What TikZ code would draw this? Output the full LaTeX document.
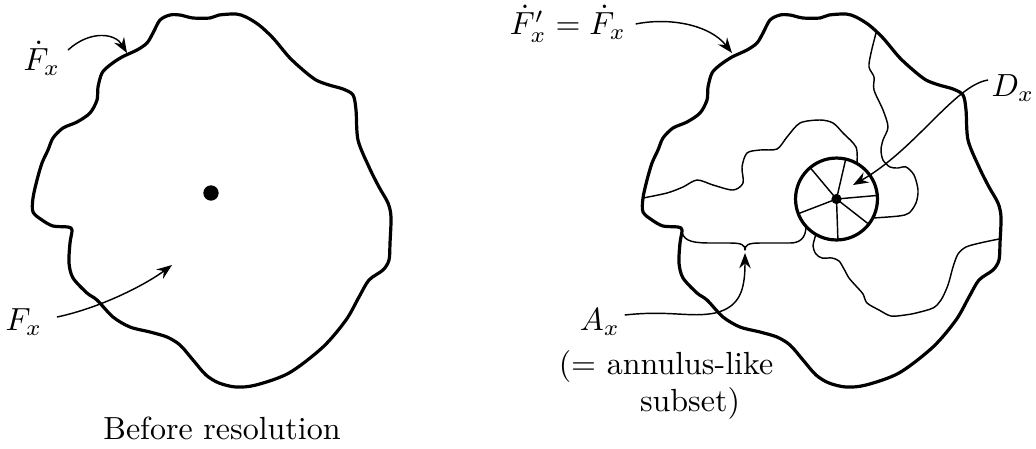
\documentclass[tikz,border=0pt]{standalone}
\usetikzlibrary{arrows.meta}
\begin{document}
\begin{tikzpicture}[x=0.3125pt,y=-0.3125pt,
  blobline/.style={line width=1pt, line join=round},
  thinline/.style={line width=0.45pt, line join=round},
  arr/.style={line width=0.45pt, -{Stealth[length=4.8pt,width=3.6pt,inset=1.6pt]}},
  lbl/.style={inner sep=0pt},
  blobpic/.pic={\draw[blobline] plot[smooth cycle, tension=0.5] coordinates {
    (780,15) (790,15) (803,18) (820,18) (829,15) (846,14) (856,17) (869,25)
    (883,38) (899,57) (913,70) (926,80) (939,85) (953,89) (963,95) (966,110)
    (968,140) (979,167) (989,187) (998,203) (1001,217) (1000,243) (999,260)
    (993,270) (979,280) (969,297) (956,320) (933,347) (899,373) (866,385)
    (846,387) (829,383) (816,375) (803,360) (790,345) (777,337) (760,332)
    (740,327) (723,317) (707,300) (697,293) (683,278) (679,263) (680,243)
    (682,230) (678,227) (663,226) (652,220) (643,212) (643,198) (647,180)
    (652,163) (658,150) (663,138) (673,128) (687,122) (700,113) (707,100)
    (708,87) (712,73) (720,65) (732,57) (747,50) (757,43) (763,33) (770,20)};}
]
\useasboundingbox (0,0) rectangle (1036,448);

% ---------- left figure ----------
\pic at (-610,0) {blobpic};
\fill (211,193) circle[radius=2.4pt];
\node[lbl] (Fdl) at (42,58) {$\dot{F}_x$};
\node[lbl] (Fl) at (24,322) {$F_x$};
\coordinate (tFdl) at (127,53);
\coordinate (tFl) at (172,265);
\draw[arr] ([shift={(7,-8)}]Fdl.east) .. controls (90,30) and (115,33) .. (tFdl);
\draw[arr] ([shift={(14,-5)}]Fl.east) .. controls (100,308) and (145,285) .. (tFl);
\node[lbl] (cap) at (222,428) {Before resolution};

% ---------- right figure ----------
\pic at (0,0) {blobpic};
\coordinate (dc) at (836.5,199);

% thin curves
\draw[thinline] plot[smooth, tension=0.5] coordinates {
  (643,198) (667,193) (683,187) (697,180) (713,185) (733,190) (743,183)
  (742,167) (747,153) (760,150) (777,149) (787,137) (800,123) (820,120)
  (833,123) (843,133) (856,147) (857,163)};
\draw[thinline] (682,232) .. controls (684,242) and (695,243) .. (712,243)
  -- (730,243) .. controls (742,243) and (745,245) .. (745,250)
  .. controls (745,245) and (748,243) .. (760,243) -- (790,243)
  .. controls (800,243) and (806,238) .. (806,226);
\draw[thinline] plot[smooth, tension=0.5] coordinates {
  (876,33) (871,53) (869,67) (874,77) (874,90) (883,110) (888,127) (883,140)
  (881,150) (883,160) (890,167) (898,168) (906,167) (914,175) (918,190)
  (916,203) (909,213) (899,216) (873,218)};
\draw[thinline] plot[smooth, tension=0.5] coordinates {
  (816,234) (813,246) (816,254) (822,258) (832,258) (839,261) (844,269)
  (849,278) (856,286) (863,294) (867,303) (879,310) (891,316) (905,315)
  (916,313) (933,308) (941,300) (948,285) (953,267) (958,254) (966,247)
  (980,243) (999,239)};

% disc with spokes
\foreach \a in {130,77,5,-38,-88,201}
  \draw[thinline] (dc) -- ++(\a:12.8pt);
\draw[blobline] (dc) circle[radius=12.8pt];
\fill (dc) circle[radius=1.6pt];

% labels and arrows
\node[lbl] (Fdr) at (568,24) {$\dot{F}'_x=\dot{F}_x$};
\node[lbl] (Dl) at (1013,88) {$D_x$};
\node[lbl] (Al) at (600,322) {$A_x$};
\node[lbl] (ann1) at (666,366) {(= annulus-like};
\node[lbl] (ann2) at (690,403) {subset)};
\coordinate (tFdr) at (732,53);
\coordinate (tDl) at (853,185);
\coordinate (tAl) at (745,253);
\draw[arr] ([shift={(9,0)}]Fdr.east) .. controls (670,17) and (710,25) .. (tFdr);
\draw[arr] ([shift={(-3,-8)}]Dl.west) .. controls (955,85) and (915,150) .. (tDl);
\draw[arr] ([shift={(4,-7)}]Al.east) .. controls (670,310) and (690,318) .. (715,313)
  .. controls (740,307) and (745,290) .. (tAl);
\end{tikzpicture}
\end{document}
